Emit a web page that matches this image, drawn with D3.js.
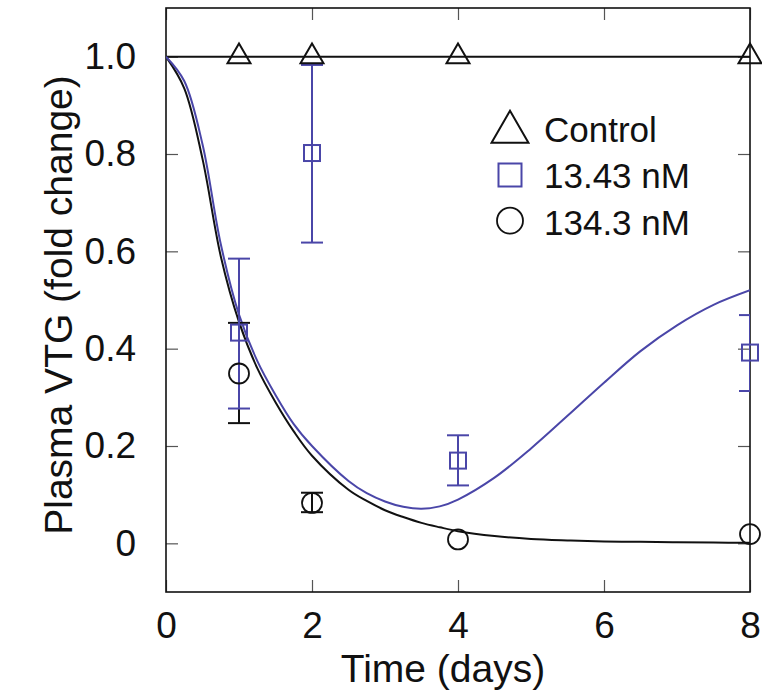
<!DOCTYPE html>
<html>
<head>
<meta charset="utf-8">
<script src="https://cdn.jsdelivr.net/npm/d3@7"></script>
<style>
  body { margin: 0; background: #fff; }
  svg text { font-family: "Liberation Sans", Arial, sans-serif; fill: #111; }
</style>
</head>
<body>
<div id="chart"></div>
<script>
// measured points
const days = [1, 2, 4, 8];
const controlMean = [1.0, 1.0, 1.0, 1.0];
const lowMean = [0.433, 0.802, 0.170, 0.392];
const lowLo = [0.277, 0.618, 0.119, 0.313];
const lowHi = [0.585, 0.983, 0.222, 0.469];
const highMean = [0.349, 0.083, 0.008, 0.019];
const highLo = [0.247, 0.064, null, null];
const highHi = [0.453, 0.104, null, null];

// model fits
const fitTime = [0, 0.25, 0.5, 0.75, 1, 1.25, 1.5, 1.75, 2, 2.5, 2.75, 3, 3.25, 3.5, 3.75, 4, 4.5, 5, 5.5, 6, 6.5, 7, 7.5, 8];
const lowFit = [1.0, 0.95, 0.82, 0.615, 0.47, 0.375, 0.305, 0.245, 0.20, 0.128, 0.103, 0.086, 0.075, 0.071, 0.076, 0.09, 0.135, 0.195, 0.262, 0.33, 0.395, 0.448, 0.49, 0.52];
const highFit = [1.0, 0.935, 0.79, 0.59, 0.455, 0.36, 0.29, 0.23, 0.18, 0.11, 0.087, 0.068, 0.054, 0.042, 0.033, 0.025, 0.015, 0.009, 0.006, 0.004, 0.003, 0.002, 0.0015, 0.001];
const controlFit = [1.0, 1.0];
const controlFitTime = [0, 8];

const xTicks = [0, 2, 4, 6, 8];
const yTicks = [0, 0.2, 0.4, 0.6, 0.8, 1.0];
const yTickLabels = ['0', '0.2', '0.4', '0.6', '0.8', '1.0'];
const legendLabels = ['Control', '13.43 nM', '134.3 nM'];

const blue = '#4a46a8';
const width = 762, height = 700;
const margin = {top: 8, right: 12, bottom: 108, left: 166};
const w = width - margin.left - margin.right;
const h = height - margin.top - margin.bottom;

const svg = d3.select('#chart').append('svg')
  .attr('width', width).attr('height', height);
const g = svg.append('g')
  .attr('transform', 'translate(' + margin.left + ',' + margin.top + ')');

const x = d3.scaleLinear().domain([0, 8]).range([0, w]);
const y = d3.scaleLinear().domain([-0.1, 1.1]).range([h, 0]);

g.append('defs').append('clipPath').attr('id', 'clip')
  .append('rect').attr('width', w).attr('height', h);

// inward ticks on all four sides
const tickLen = 12;
const styleAxis = (sel) => {
  sel.select('.domain').remove();
  sel.selectAll('.tick line').attr('stroke', '#555').attr('stroke-width', 1.2);
  sel.selectAll('.tick text').attr('font-size', 37).attr('fill', '#111');
};
g.append('g').attr('transform', 'translate(0,' + h + ')')
  .call(d3.axisBottom(x).tickValues(xTicks).tickSizeInner(-tickLen).tickSizeOuter(0).tickPadding(20))
  .call(styleAxis);
g.append('g')
  .call(d3.axisTop(x).tickValues(xTicks).tickSizeInner(-tickLen).tickSizeOuter(0).tickFormat(''))
  .call(styleAxis);
g.append('g')
  .call(d3.axisLeft(y).tickValues(yTicks).tickSizeInner(-tickLen).tickSizeOuter(0).tickPadding(30)
    .tickFormat((d, i) => yTickLabels[i]))
  .call(styleAxis);
g.append('g').attr('transform', 'translate(' + w + ',0)')
  .call(d3.axisRight(y).tickValues(yTicks).tickSizeInner(-tickLen).tickSizeOuter(0).tickFormat(''))
  .call(styleAxis);

g.append('rect').attr('width', w).attr('height', h)
  .attr('fill', 'none').attr('stroke', '#111').attr('stroke-width', 1.6);

// fitted curves
const line = d3.line().x(d => x(d[0])).y(d => y(d[1])).curve(d3.curveCatmullRom.alpha(0.5));
const curves = g.append('g').attr('clip-path', 'url(#clip)');
curves.append('path').datum(d3.zip(controlFitTime, controlFit))
  .attr('d', line).attr('fill', 'none').attr('stroke', '#111').attr('stroke-width', 2);
curves.append('path').datum(d3.zip(fitTime, highFit))
  .attr('d', line).attr('fill', 'none').attr('stroke', '#111').attr('stroke-width', 2);
curves.append('path').datum(d3.zip(fitTime, lowFit))
  .attr('d', line).attr('fill', 'none').attr('stroke', blue).attr('stroke-width', 2);

// error bars
const capW = 11;
const errBars = (lo, hi, color) => {
  const eg = g.append('g').attr('clip-path', 'url(#clip)')
    .attr('stroke', color).attr('stroke-width', 2).attr('fill', 'none');
  days.forEach((t, i) => {
    if (lo[i] == null) return;
    const cx = x(t);
    eg.append('line').attr('x1', cx).attr('x2', cx).attr('y1', y(lo[i])).attr('y2', y(hi[i]));
    eg.append('line').attr('x1', cx - capW).attr('x2', cx + capW).attr('y1', y(lo[i])).attr('y2', y(lo[i]));
    eg.append('line').attr('x1', cx - capW).attr('x2', cx + capW).attr('y1', y(hi[i])).attr('y2', y(hi[i]));
  });
};
errBars(highLo, highHi, '#111');
errBars(lowLo, lowHi, blue);

// markers
const tri = d3.symbol().type(d3.symbolTriangle).size(229);
g.append('g').selectAll('path').data(days).join('path')
  .attr('d', tri)
  .attr('transform', (d, i) => 'translate(' + x(d) + ',' + y(controlMean[i]) + ')')
  .attr('fill', 'none').attr('stroke', '#111').attr('stroke-width', 2);
g.append('g').selectAll('rect').data(days).join('rect')
  .attr('x', d => x(d) - 8).attr('width', 16).attr('height', 16)
  .attr('y', (d, i) => y(lowMean[i]) - 8)
  .attr('fill', 'none').attr('stroke', blue).attr('stroke-width', 2);
g.append('g').selectAll('circle').data(days).join('circle')
  .attr('cx', d => x(d)).attr('cy', (d, i) => y(highMean[i])).attr('r', 10)
  .attr('fill', 'none').attr('stroke', '#111').attr('stroke-width', 1.8);

// legend
const lg = svg.append('g').attr('transform', 'translate(510,0)');
lg.append('path').attr('d', d3.symbol().type(d3.symbolTriangle).size(590))
  .attr('transform', 'translate(0,132)')
  .attr('fill', 'none').attr('stroke', '#111').attr('stroke-width', 2);
lg.append('rect').attr('x', -11.5).attr('y', 163.5).attr('width', 23).attr('height', 23)
  .attr('fill', 'none').attr('stroke', blue).attr('stroke-width', 2);
lg.append('circle').attr('cx', 0).attr('cy', 220.7).attr('r', 13)
  .attr('fill', 'none').attr('stroke', '#111').attr('stroke-width', 1.8);
lg.selectAll('text.lab').data(legendLabels).join('text')
  .attr('class', 'lab')
  .attr('x', 34).attr('y', (d, i) => 141.7 + i * 46.7)
  .attr('font-size', 35)
  .text(d => d);

// axis titles
svg.append('text')
  .attr('x', margin.left + w / 2 - 15).attr('y', 682)
  .attr('text-anchor', 'middle').attr('font-size', 39)
  .text('Time (days)');
svg.append('text')
  .attr('transform', 'translate(72,' + (margin.top + h / 2 + 5) + ') rotate(-90)')
  .attr('text-anchor', 'middle').attr('font-size', 39)
  .text('Plasma VTG (fold change)');
</script>
</body>
</html>
